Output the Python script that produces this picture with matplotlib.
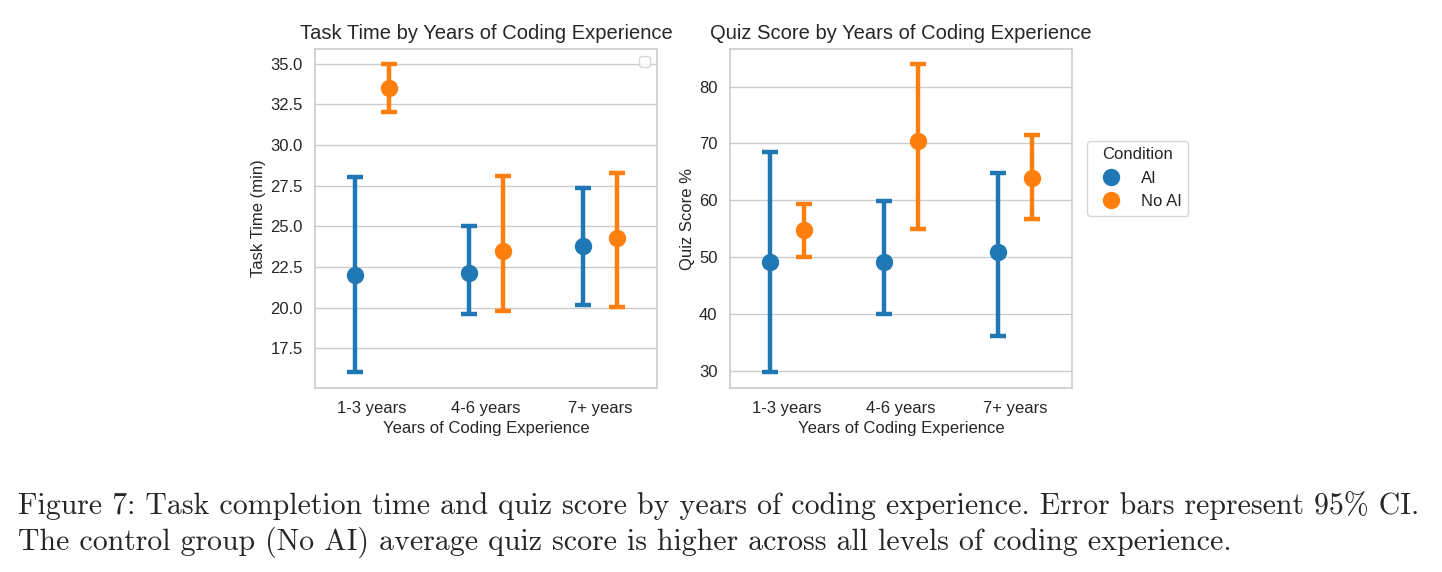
import matplotlib
matplotlib.use("Agg")
import matplotlib.pyplot as plt
import seaborn as sns
import numpy as np
from matplotlib.lines import Line2D

sns.set_style("whitegrid")
plt.rcParams['font.family'] = ['Liberation Sans', 'DejaVu Sans']

categories = ["1-3 years", "4-6 years", "7+ years"]
conditions = ["AI", "No AI"]
colors = {"AI": "#1f77b4", "No AI": "#ff7f0e"}

# Task time (min): mean, CI low, CI high
time_mean = {"AI": [22.0, 22.1, 23.8], "No AI": [33.5, 23.45, 24.3]}
time_lo = {"AI": [16.05, 19.6, 20.15], "No AI": [32.0, 19.8, 20.05]}
time_hi = {"AI": [28.0, 25.0, 27.35], "No AI": [35.0, 28.1, 28.25]}

# Quiz score %: mean, CI low, CI high
quiz_mean = {"AI": [49.1, 49.1, 50.9], "No AI": [54.7, 70.45, 63.9]}
quiz_lo = {"AI": [29.75, 39.9, 36.1], "No AI": [50.0, 55.0, 56.7]}
quiz_hi = {"AI": [68.55, 59.9, 64.75], "No AI": [59.3, 84.0, 71.4]}

time_ticks = [17.5, 20.0, 22.5, 25.0, 27.5, 30.0, 32.5, 35.0]
quiz_ticks = [30, 40, 50, 60, 70, 80]

W, H = 1442, 572
fig = plt.figure(figsize=(W / 100, H / 100), dpi=100)
ax1 = fig.add_axes([315 / W, 1 - 388 / H, 342 / W, 339 / H])
ax2 = fig.add_axes([730 / W, 1 - 388 / H, 342 / W, 339 / H])

offsets = {"AI": -0.15, "No AI": 0.15}
x = np.arange(len(categories))

TXT = '#262626'
FS = 12


def draw(ax, mean, lo, hi):
    for c in conditions:
        m = np.array(mean[c])
        yerr = np.vstack([m - np.array(lo[c]), np.array(hi[c]) - m])
        ax.errorbar(x + offsets[c], m, yerr=yerr, fmt='o', color=colors[c],
                    markersize=11.5, elinewidth=3.2, capsize=6, capthick=3.2,
                    zorder=3, label=c)
    ax.set_xticks(x)
    ax.set_xticklabels(categories)
    ax.set_xlim(-0.5, 2.5)
    ax.grid(axis='x', visible=False)
    ax.grid(axis='y', color='#cccccc', linewidth=1.0)
    for s in ax.spines.values():
        s.set_color('#cccccc')
        s.set_linewidth(1.2)
    ax.tick_params(axis='x', labelsize=FS, colors=TXT, length=0, pad=9)
    ax.tick_params(axis='y', labelsize=FS, colors=TXT, length=0, pad=9)


draw(ax1, time_mean, time_lo, time_hi)
ax1.set_ylim(15.05, 35.9)
ax1.set_yticks(time_ticks)
ax1.set_yticklabels([f"{t:.1f}" for t in time_ticks])
ax1.set_title("Task Time by Years of Coding Experience", fontsize=14.5, color=TXT, pad=7)
ax1.set_ylabel("Task Time (min)", fontsize=FS, color=TXT, labelpad=3)
ax1.set_xlabel("Years of Coding Experience", fontsize=FS, color=TXT, labelpad=4)
ax1.legend(handles=[], loc='upper right')

draw(ax2, quiz_mean, quiz_lo, quiz_hi)
ax2.set_ylim(26.95, 86.6)
ax2.set_yticks(quiz_ticks)
ax2.set_title("Quiz Score by Years of Coding Experience", fontsize=14.5, color=TXT, pad=7)
ax2.set_ylabel("Quiz Score %", fontsize=FS, color=TXT, labelpad=3)
ax2.set_xlabel("Years of Coding Experience", fontsize=FS, color=TXT, labelpad=4)

handles = [Line2D([], [], marker='o', linestyle='', color=colors[c], markersize=11.5, label=c)
           for c in conditions]
leg = ax2.legend(handles=handles, title="Condition", loc='upper left',
                 bbox_to_anchor=(1.045, 0.73), borderaxespad=0, fontsize=FS,
                 title_fontsize=FS, frameon=True)
leg.get_frame().set_edgecolor('#cccccc')

cap1 = "Figure 7: Task completion time and quiz score by years of coding experience. Error bars represent 95% CI."
cap2 = "The control group (No AI) average quiz score is higher across all levels of coding experience."
fig.text(18 / W, 1 - 514 / H, cap1, fontfamily='cmr10', fontsize=21.5, ha='left', va='baseline')
fig.text(18 / W, 1 - 550 / H, cap2, fontfamily='cmr10', fontsize=21.5, ha='left', va='baseline')

fig.savefig("out.png", dpi=100)
